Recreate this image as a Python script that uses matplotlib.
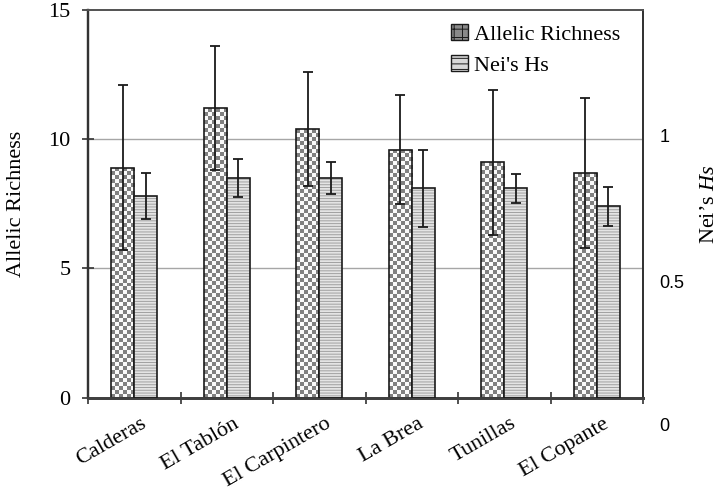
import numpy as np
import matplotlib
matplotlib.use("Agg")
import matplotlib.pyplot as plt
from matplotlib.patches import Patch
from matplotlib.transforms import ScaledTranslation

plt.rcParams['font.family'] = ['Liberation Serif', 'DejaVu Serif']
plt.rcParams['mathtext.fontset'] = 'custom'
plt.rcParams['mathtext.rm'] = 'Liberation Serif'
plt.rcParams['mathtext.it'] = 'Liberation Serif:italic'
plt.rcParams['hatch.linewidth'] = 0.7

sites = ['Calderas', 'El Tablón', 'El Carpintero', 'La Brea', 'Tunillas', 'El Copante']
richness = [8.9, 11.2, 10.4, 9.6, 9.1, 8.7]
richness_err = [3.2, 2.4, 2.2, 2.1, 2.8, 2.9]
hs = [0.78, 0.85, 0.85, 0.81, 0.81, 0.74]
hs_err = [0.09, 0.075, 0.06, 0.15, 0.055, 0.075]
left_ticks = [0, 5, 10, 15]
right_ticks = [0, 0.5, 1]
right_labels = ['0', '0.5', '1']

x = np.arange(len(sites))
w = 0.25

fig = plt.figure(figsize=(7.2, 4.93), dpi=100)
ax = fig.add_axes([88/720, 1-397.7/493, 555/720, 387.7/493])
ax2 = ax.twinx()

ax.set_xlim(-0.5, len(sites) - 0.5)
ax.set_ylim(0, 15)
ax2.set_ylim(0, 1.5)

# gridlines at 5 and 10
for v in [5, 10]:
    ax.axhline(v, color='#a6a6a6', lw=1, zorder=0)

# allelic richness bars (checker fill drawn as clipped image)
bars = ax.bar(x - w/2, richness, w, facecolor='none', edgecolor='#1a1a1a', lw=1.2, zorder=3)
for r in bars:
    bb = r.get_window_extent()
    nx = max(1, int(round(bb.width / 4)))
    ny = max(1, int(round(bb.height / 4)))
    chk = (np.indices((ny, nx)).sum(0) % 2) * 0.48 + 0.5
    im = ax.imshow(chk, extent=(r.get_x(), r.get_x() + r.get_width(), 0, r.get_height()),
                   origin='lower', cmap='gray', vmin=0, vmax=1, aspect='auto',
                   interpolation='nearest', zorder=2)
    im.set_clip_path(r)
ax.errorbar(x - w/2, richness, yerr=richness_err, fmt='none', ecolor='#1a1a1a',
            elinewidth=1.3, capsize=3.5, capthick=1.3, zorder=4)

# Nei's Hs bars
ax2.bar(x + w/2, hs, w, facecolor='#e4e4e4', edgecolor='#a0a0a0', hatch='------', lw=0, zorder=2)
ax2.bar(x + w/2, hs, w, fill=False, edgecolor='#1a1a1a', lw=1.2, zorder=3)
ax2.errorbar(x + w/2, hs, yerr=hs_err, fmt='none', ecolor='#1a1a1a',
             elinewidth=1.3, capsize=3.5, capthick=1.3, zorder=4)

ax.set_xlim(-0.5, len(sites) - 0.5)
ax.set_ylim(0, 15)
ax2.set_ylim(0, 1.5)

# x axis: ticks at category boundaries, labels at centres
ax.set_xticks(np.arange(len(sites) + 1) - 0.5)
ax.set_xticklabels([])
ax.tick_params(axis='x', which='major', direction='inout', length=9, width=1.2, color='#333333')
ax.set_xticks(x, minor=True)
ax.set_xticklabels(sites, minor=True, rotation=30, ha='right', rotation_mode='anchor', fontsize=16)
ax.tick_params(axis='x', which='minor', length=0, pad=12)
for lab in ax.get_xticklabels(minor=True):
    lab.set_transform(lab.get_transform() + ScaledTranslation(6/100, 0, fig.dpi_scale_trans))

ax.set_yticks(left_ticks)
ax.tick_params(axis='y', direction='inout', length=9, width=1.2, color='#333333', labelsize=16, pad=8)
ax.set_ylabel('Allelic Richness', fontsize=16, labelpad=16)

ax2.set_yticks(right_ticks)
ax2.set_yticklabels(right_labels, family=['Liberation Sans'], fontsize=13)
ax2.tick_params(axis='y', length=0, pad=12)
for lab, dy in zip(ax2.get_yticklabels(), [27, 13, -4]):
    lab.set_transform(lab.get_transform() + ScaledTranslation(0, -dy/100, fig.dpi_scale_trans))
ax2.set_ylabel("Nei’s $\\mathit{Hs}$", fontsize=16)
ax2.yaxis.set_label_coords(1.103, 0.5)

for a in (ax, ax2):
    a.spines['bottom'].set_linewidth(2)
    a.spines['bottom'].set_color('#404040')
    a.spines['left'].set_linewidth(1.6)
    a.spines['left'].set_color('#333333')
    a.spines['top'].set_linewidth(1.3)
    a.spines['top'].set_color('#555555')
    a.spines['right'].set_linewidth(1.3)
    a.spines['right'].set_color('#333333')

handles = [Patch(facecolor='#8a8a8a', edgecolor='#1a1a1a', hatch='++'),
           Patch(facecolor='#d8d8d8', edgecolor='#1a1a1a', hatch='---')]
ax2.legend(handles, ['Allelic Richness', "Nei's Hs"], loc='upper left',
           bbox_to_anchor=(442/720, 1 - 15/493), bbox_transform=fig.transFigure,
           frameon=False, fontsize=16, handlelength=0.75, handleheight=0.75,
           handletextpad=0.3, labelspacing=0.45, borderaxespad=0)

fig.savefig('out.png', dpi=100)
